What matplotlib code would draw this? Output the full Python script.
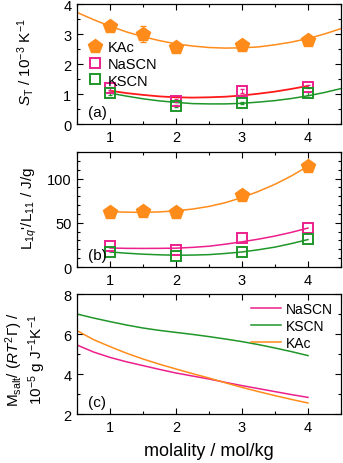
import numpy as np
import matplotlib
matplotlib.use("Agg")
import matplotlib.pyplot as plt
from matplotlib.ticker import MultipleLocator

plt.rcParams['font.family'] = ['Liberation Sans', 'DejaVu Sans']
plt.rcParams['mathtext.fontset'] = 'custom'
plt.rcParams['mathtext.rm'] = 'Liberation Sans'
plt.rcParams['mathtext.it'] = 'Liberation Sans:italic'

# colours
c_kac = '#ff8c1a'
c_na = '#ec1f8c'
c_k = '#1f962a'
c_red = '#ff1a1a'

# ---- panel (a): Soret coefficient ----
m_kac = [1.0, 1.5, 2.0, 3.0, 4.0]
st_kac = [3.28, 3.00, 2.56, 2.63, 2.81]
st_kac_err = [0.05, 0.28, 0.05, 0.05, 0.05]
m_scn = [1.0, 2.0, 3.0, 4.0]
st_na = [1.19, 0.78, 1.10, 1.24]
st_na_err = [0.06, 0.04, 0.08, 0.05]
st_k = [1.02, 0.61, 0.70, 1.02]
st_k_err = [0.05, 0.04, 0.03, 0.04]

# fit curves
fa_kac_x = [0.5, 0.75, 1.0, 1.25, 1.5, 1.75, 2.0, 2.25, 2.5, 2.75, 3.0, 3.25, 3.5, 3.75, 4.0, 4.25, 4.5]
fa_kac_y = [3.72, 3.48, 3.26, 3.07, 2.91, 2.78, 2.67, 2.60, 2.55, 2.53, 2.54, 2.57, 2.64, 2.73, 2.85, 3.00, 3.18]
fa_na_x = [1.0, 1.25, 1.5, 1.75, 2.0, 2.25, 2.5, 2.75, 3.0, 3.25, 3.5, 3.75, 4.0]
fa_na_y = [1.11, 1.03, 0.97, 0.92, 0.89, 0.88, 0.89, 0.91, 0.95, 1.01, 1.08, 1.17, 1.27]
fa_k_x = [1.0, 1.25, 1.5, 1.75, 2.0, 2.25, 2.5, 2.75, 3.0, 3.25, 3.5, 3.75, 4.0, 4.25, 4.5]
fa_k_y = [1.03, 0.93, 0.84, 0.77, 0.72, 0.68, 0.67, 0.67, 0.69, 0.73, 0.78, 0.85, 0.94, 1.05, 1.18]

# ---- panel (b): L1q'/L11 ----
lq_kac = [61.8, 63.6, 62.5, 81.6, 114.2]
lq_na = [23.2, 19.4, 32.6, 43.8]
lq_k = [16.9, 11.9, 17.5, 31.8]
fb_x = [1.0, 1.25, 1.5, 1.75, 2.0, 2.25, 2.5, 2.75, 3.0, 3.25, 3.5, 3.75, 4.0]
fb_kac = [62.5, 62.0, 61.8, 62.3, 63.5, 65.5, 68.5, 72.8, 78.5, 85.5, 93.5, 103.0, 114.0]
fb_na = [21.5, 21.1, 21.0, 21.1, 21.3, 22.2, 23.5, 25.8, 28.5, 31.5, 35.0, 39.2, 44.0]
fb_k = [17.0, 15.6, 14.5, 13.8, 13.3, 13.5, 14.0, 15.3, 17.0, 19.5, 22.5, 26.5, 31.0]

# ---- panel (c): M_salt/(RT^2 Gamma) ----
mc = [0.5, 0.75, 1.0, 1.25, 1.5, 1.75, 2.0, 2.25, 2.5, 2.75, 3.0, 3.25, 3.5, 3.75, 4.0]
mc_na = [5.45, 5.10, 4.83, 4.61, 4.42, 4.23, 4.05, 3.90, 3.75, 3.58, 3.42, 3.27, 3.12, 2.97, 2.83]
mc_k = [7.00, 6.80, 6.62, 6.45, 6.30, 6.18, 6.08, 5.98, 5.87, 5.75, 5.62, 5.47, 5.30, 5.12, 4.92]
mc_kac = [6.17, 5.72, 5.37, 5.04, 4.75, 4.49, 4.25, 4.02, 3.80, 3.56, 3.33, 3.12, 2.92, 2.73, 2.55]

fig = plt.figure(figsize=(3.43, 4.64), dpi=100)
L, W = 0.2245, 0.7695
ax1 = fig.add_axes([L, 0.7306, W, 0.2586])
ax2 = fig.add_axes([L, 0.4224, W, 0.2478])
ax3 = fig.add_axes([L, 0.1056, W, 0.2586])


def style(ax):
    ax.set_xlim(0.5, 4.5)
    ax.xaxis.set_major_locator(MultipleLocator(1))
    ax.xaxis.set_minor_locator(MultipleLocator(0.5))
    ax.tick_params(which='both', direction='in', top=True, right=True, labelsize=10.5, pad=4)
    ax.tick_params(which='major', length=4, width=0.8)
    ax.tick_params(which='minor', length=2.5, width=0.8)
    for s in ax.spines.values():
        s.set_linewidth(0.9)


# (a)
ax1.plot(fa_kac_x, fa_kac_y, color=c_kac, lw=1.1)
ax1.plot(fa_na_x, fa_na_y, color=c_red, lw=1.3)
ax1.plot(fa_k_x, fa_k_y, color=c_k, lw=1.1)
ax1.errorbar(m_kac, st_kac, yerr=st_kac_err, fmt='none', ecolor=c_kac,
             elinewidth=0.8, capsize=2)
ax1.errorbar(m_scn, st_na, yerr=st_na_err, fmt='none', ecolor=c_na,
             elinewidth=0.7, capsize=1.5)
ax1.errorbar(m_scn, st_k, yerr=st_k_err, fmt='none', ecolor=c_k,
             elinewidth=0.7, capsize=1.5)
ax1.plot(m_kac, st_kac, 'p', color=c_kac, ms=10, label='KAc')
ax1.plot(m_scn, st_na, 's', mfc='none', mec=c_na, ms=7, mew=1.4, label='NaSCN')
ax1.plot(m_scn, st_k, 's', mfc='none', mec=c_k, ms=7, mew=1.4, label='KSCN')
style(ax1)
ax1.set_ylim(0, 4)
ax1.yaxis.set_major_locator(MultipleLocator(1))
ax1.yaxis.set_minor_locator(MultipleLocator(0.5))
ax1.legend(loc='upper left', bbox_to_anchor=(0.0, 0.775), frameon=False, fontsize=10.5,
           handletextpad=0.2, borderaxespad=0.2, labelspacing=0.2, handlelength=1.3)
ax1.text(0.04, 0.07, '(a)', transform=ax1.transAxes, fontsize=11)

# (b)
ax2.plot(fb_x, fb_kac, color=c_kac, lw=1.1)
ax2.plot(fb_x, fb_na, color=c_na, lw=1.1)
ax2.plot(fb_x, fb_k, color=c_k, lw=1.1)
ax2.plot(m_kac, lq_kac, 'p', color=c_kac, ms=10)
ax2.plot(m_scn, lq_na, 's', mfc='none', mec=c_na, ms=7, mew=1.4)
ax2.plot(m_scn, lq_k, 's', mfc='none', mec=c_k, ms=7, mew=1.4)
style(ax2)
ax2.set_ylim(0, 130)
ax2.yaxis.set_major_locator(MultipleLocator(50))
ax2.yaxis.set_minor_locator(MultipleLocator(10))
ax2.text(0.04, 0.07, '(b)', transform=ax2.transAxes, fontsize=11)

# (c)
ax3.plot(mc, mc_na, color=c_na, lw=1.1, label='NaSCN')
ax3.plot(mc, mc_k, color=c_k, lw=1.1, label='KSCN')
ax3.plot(mc, mc_kac, color=c_kac, lw=1.1, label='KAc')
style(ax3)
ax3.set_ylim(2, 8)
ax3.yaxis.set_major_locator(MultipleLocator(2))
ax3.yaxis.set_minor_locator(MultipleLocator(1))
ax3.legend(loc='upper right', frameon=False, fontsize=10, handlelength=2.2,
           handletextpad=0.3, labelspacing=0.2, borderaxespad=0.2)
ax3.text(0.04, 0.07, '(c)', transform=ax3.transAxes, fontsize=11)
ax3.set_xlabel('molality / mol/kg', fontsize=13, labelpad=6)

# y labels
fig.text(0.073, 0.865, r'$S_\mathrm{T}$ / 10$^{-3}$ K$^{-1}$', rotation=90,
         ha='center', va='center', fontsize=11)
fig.text(0.085, 0.55, r"L$_{1q}$'/L$_{11}$ / J/g", rotation=90,
         ha='center', va='center', fontsize=11)
fig.text(0.041, 0.225, r'M$_\mathrm{salt}$/ ($RT^2\mathit{Γ}$) /', rotation=90,
         ha='center', va='center', fontsize=11)
fig.text(0.108, 0.225, r'10$^{-5}$ g J$^{-1}$K$^{-1}$', rotation=90,
         ha='center', va='center', fontsize=11)

fig.savefig('out.png', dpi=100)
